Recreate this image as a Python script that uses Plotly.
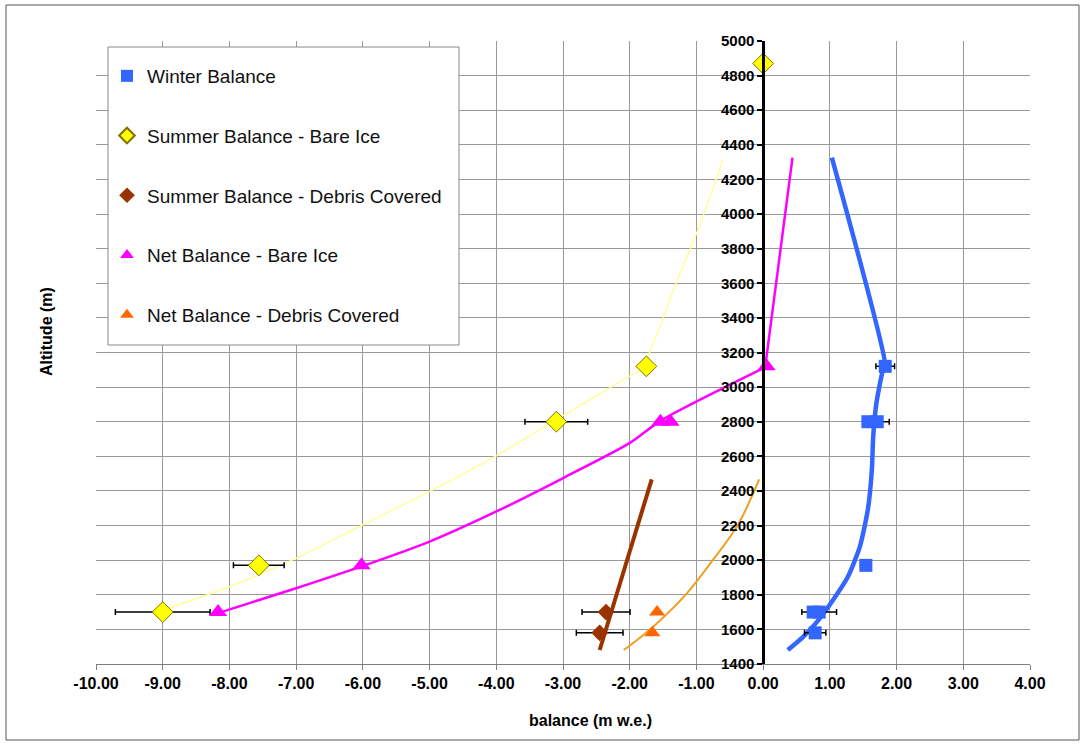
import plotly.graph_objects as go

# ---------------- data ----------------
# Winter balance (points)
winter_bal = [1.83, 1.57, 1.71, 1.54, 0.75, 0.84, 0.78]
winter_alt = [3120, 2800, 2800, 1970, 1700, 1700, 1580]
winter_err = [0.14, 0.03, 0.18, 0.08, 0.03, 0.26, 0.16]
# Winter fit curve
winter_fit_bal = [1.03, 1.83, 1.80, 1.70, 1.65, 1.63, 1.57, 1.45, 1.27, 1.05, 0.81, 0.60, 0.37]
winter_fit_alt = [4326, 3123, 3104, 2913, 2716, 2525, 2293, 2078, 1904, 1771, 1645, 1557, 1481]

# Summer balance - bare ice
sbare_bal = [0.0, -1.75, -3.10, -7.56, -9.00]
sbare_alt = [4870, 3120, 2800, 1970, 1700]
sbare_err = [0.0, 0.05, 0.47, 0.38, 0.71]
sbare_fit_bal = [-0.60, -0.895, -1.09, -1.34, -1.54, -1.72, -1.75, -1.99, -3.09, -3.99, -4.99, -5.99, -6.99, -7.99, -8.99]
sbare_fit_alt = [4318, 3993, 3800, 3568, 3355, 3181, 3120, 3066, 2814, 2606, 2399, 2206, 2013, 1848, 1713]

# Summer balance - debris covered
sdeb_bal = [-2.355, -2.45]
sdeb_alt = [1700, 1580]
sdeb_err = [0.36, 0.35]
sdeb_fit_bal = [-2.45, -1.67]
sdeb_fit_alt = [1481, 2467]

# Net balance - bare ice
nbare_bal = [0.05, -1.54, -1.39, -6.02, -8.17]
nbare_alt = [3120, 2800, 2800, 1970, 1700]
# lower (curved) part and upper (straight) part of the fit
nbare_fit_low_bal = [0.03, -1.54, -1.99, -2.99, -3.99, -4.99, -6.02, -6.99, -8.17]
nbare_fit_low_alt = [3114, 2805, 2679, 2476, 2283, 2109, 1964, 1839, 1694]
nbare_fit_up_bal = [0.44, 0.03]
nbare_fit_up_alt = [4326, 3114]

# Net balance - debris covered
ndeb_bal = [-1.59, -1.66]
ndeb_alt = [1700, 1580]
ndeb_fit_bal = [-2.09, -1.89, -1.59, -1.14, -0.75, -0.39, -0.19, -0.06]
ndeb_fit_alt = [1481, 1539, 1636, 1810, 2003, 2196, 2351, 2467]

x_ticks = [-10, -9, -8, -7, -6, -5, -4, -3, -2, -1, 0, 1, 2, 3, 4]
y_ticks = list(range(1400, 5001, 200))

# ---------------- colours ----------------
C_WIN = "#3366FF"
C_SBARE = "#FFFF00"
C_SBARE_LINE = "#FFFF99"
C_SDEB = "#993300"
C_NBARE = "#FF00FF"
C_NDEB = "#FF6600"
C_NDEB_LINE = "#F0A020"

fig = go.Figure()

# fit lines first (under markers)
fig.add_trace(go.Scatter(x=sbare_fit_bal, y=sbare_fit_alt, mode="lines", line=dict(color=C_SBARE_LINE, width=1.5, shape="spline"),
                         showlegend=False, hoverinfo="skip"))
fig.add_trace(go.Scatter(x=nbare_fit_low_bal, y=nbare_fit_low_alt, mode="lines", line=dict(color=C_NBARE, width=2.5, shape="spline", smoothing=0.7),
                         showlegend=False, hoverinfo="skip"))
fig.add_trace(go.Scatter(x=nbare_fit_up_bal, y=nbare_fit_up_alt, mode="lines", line=dict(color=C_NBARE, width=2.5),
                         showlegend=False, hoverinfo="skip"))
fig.add_trace(go.Scatter(x=sdeb_fit_bal, y=sdeb_fit_alt, mode="lines", line=dict(color=C_SDEB, width=4),
                         showlegend=False, hoverinfo="skip"))
fig.add_trace(go.Scatter(x=ndeb_fit_bal, y=ndeb_fit_alt, mode="lines", line=dict(color=C_NDEB_LINE, width=2, shape="spline"),
                         showlegend=False, hoverinfo="skip"))
fig.add_trace(go.Scatter(x=winter_fit_bal, y=winter_fit_alt, mode="lines", line=dict(color=C_WIN, width=4.5, shape="spline", smoothing=0.6),
                         showlegend=False, hoverinfo="skip"))

err_style = dict(type="data", color="black", thickness=1.5, width=3)

fig.add_trace(go.Scatter(x=winter_bal, y=winter_alt, mode="markers", name="Winter Balance", legendgroup="a",
                         marker=dict(symbol="square", size=13, color=C_WIN),
                         error_x=dict(array=winter_err, **err_style)))
fig.add_trace(go.Scatter(x=sbare_bal, y=sbare_alt, mode="markers", name="Summer Balance - Bare Ice", legendgroup="b",
                         marker=dict(symbol="diamond", size=16, color=C_SBARE, line=dict(color="#807000", width=1)),
                         error_x=dict(array=sbare_err, **err_style)))
fig.add_trace(go.Scatter(x=sdeb_bal, y=sdeb_alt, mode="markers", name="Summer Balance - Debris Covered", legendgroup="c",
                         marker=dict(symbol="diamond", size=13, color=C_SDEB),
                         error_x=dict(array=sdeb_err, **err_style)))
fig.add_trace(go.Scatter(x=nbare_bal, y=nbare_alt, mode="markers", name="Net Balance - Bare Ice", legendgroup="d",
                         marker=dict(symbol="triangle-up", size=16, color=C_NBARE)))
fig.add_trace(go.Scatter(x=ndeb_bal, y=ndeb_alt, mode="markers", name="Net Balance - Debris Covered", legendgroup="e",
                         marker=dict(symbol="triangle-up", size=14, color=C_NDEB)))

# geometry helpers (paper coords)
L, R, T, B = 96, 54, 41, 81
PW, PH = 1084 - L - R, 745 - T - B

def px(x):
    return (x - L) / PW

def py(y):
    return (745 - B - y) / PH

fig.update_layout(
    width=1084, height=745,
    margin=dict(l=L, r=R, t=T, b=B),
    paper_bgcolor="white", plot_bgcolor="white",
    font=dict(family="Arial, Liberation Sans, sans-serif", color="black"),
    showlegend=True,
    legend=dict(x=px(107), y=py(57), xanchor="left", yanchor="top", bgcolor="rgba(0,0,0,0)",
                borderwidth=0, font=dict(size=19, color="#111111"), tracegroupgap=32,
                itemsizing="constant", traceorder="grouped"),
    xaxis=dict(range=[-10, 4], tickvals=x_ticks, ticktext=[f"{v:.2f}" for v in x_ticks],
               showgrid=True, gridcolor="#999999", gridwidth=1, zeroline=False,
               showline=True, linecolor="#808080", linewidth=1,
               ticks="outside", ticklen=5, tickcolor="#808080",
               tickfont=dict(size=16, family="Arial, Liberation Sans, sans-serif", weight="bold")),
    yaxis=dict(range=[1400, 5000], tickvals=y_ticks, ticktext=[str(v) for v in y_ticks],
               showgrid=True, gridcolor="#999999", gridwidth=1, zeroline=False,
               anchor="free", position=10 / 14,
               showline=True, linecolor="black", linewidth=2.5,
               ticks="outside", ticklen=5, tickcolor="black", tickwidth=1.5,
               tickfont=dict(size=15, family="Arial, Liberation Sans, sans-serif", weight="bold")),
    shapes=[
        dict(type="rect", xref="paper", yref="paper", x0=px(6), x1=px(1079), y0=py(740), y1=py(5),
             line=dict(color="#555555", width=1), fillcolor="rgba(0,0,0,0)", layer="below"),
        dict(type="rect", xref="paper", yref="paper", x0=px(108), x1=px(459), y0=py(345), y1=py(47),
             line=dict(color="#888888", width=1), fillcolor="white", layer="above"),
    ],
    annotations=[
        dict(text="Altitude (m)", xref="paper", yref="paper", x=px(46), y=py(332), showarrow=False,
             textangle=-90, font=dict(size=16, weight="bold"), xanchor="center", yanchor="middle"),
        dict(text="balance (m w.e.)", xref="paper", yref="paper", x=px(590), y=py(720), showarrow=False,
             font=dict(size=16, weight="bold"), xanchor="center", yanchor="middle"),
    ],
)

fig.write_html("out.html", config={"displayModeBar": False},
               post_script="document.body.style.margin='0px';document.body.style.overflow='hidden';")
